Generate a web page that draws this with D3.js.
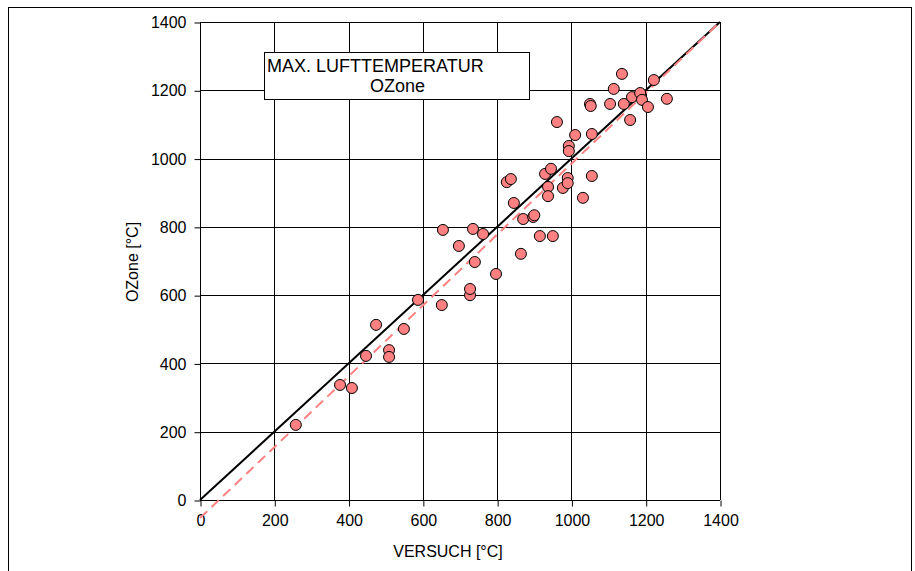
<!DOCTYPE html>
<html>
<head>
<meta charset="utf-8">
<script src="https://cdn.jsdelivr.net/npm/d3@7"></script>
<style>
  body { margin: 0; background: #fff; }
  svg { display: block; font-family: "Liberation Sans", Arial, sans-serif; }
</style>
</head>
<body>
<svg id="chart" width="915" height="571"></svg>
<script>
// measured (VERSUCH) vs computed (OZone) max air temperature, degC
var versuch = [258, 377, 409, 447, 474, 509, 509, 549, 587, 651,
               654, 697, 727, 727, 735, 740, 762, 797, 826, 837,
               845, 864, 870, 897, 900, 915, 929, 937, 937, 945,
               950, 961, 977, 990, 990, 993, 993, 1010, 1031, 1050,
               1052, 1055, 1055, 1104, 1114, 1136, 1141, 1158, 1163, 1185,
               1190, 1206, 1222, 1257];
var ozone = [220, 337, 328, 422, 513, 439, 419, 501, 586, 571,
             791, 744, 600, 618, 794, 697, 779, 662, 931, 940,
             870, 721, 823, 829, 834, 773, 955, 917, 890, 970,
             773, 1107, 914, 943, 928, 1037, 1022, 1069, 885, 1160,
             1154, 949, 1072, 1160, 1204, 1248, 1160, 1113, 1180, 1192,
             1172, 1151, 1230, 1175];

var ticks = [0, 200, 400, 600, 800, 1000, 1200, 1400];
// reference line y = x and regression line (dashed)
var idealLine = [[0, 0], [1400, 1400]];
var fitLine = [[0, -53], [1400, 1400]];

var legendLines = ["MAX. LUFTTEMPERATUR", "OZone"];

var svg = d3.select("#chart");

// outer frame
svg.append("rect")
    .attr("x", 8.5).attr("y", 7.5)
    .attr("width", 903).attr("height", 620)
    .attr("fill", "none").attr("stroke", "#000").attr("stroke-width", 1);

var x = d3.scaleLinear().domain([0, 1400]).range([200, 720]);
var y = d3.scaleLinear().domain([0, 1400]).range([500, 22]);

// grid
var grid = svg.append("g");
grid.selectAll(".vg").data(ticks).enter().append("line")
    .attr("x1", function (d) { return Math.round(x(d)) + 0.5; })
    .attr("x2", function (d) { return Math.round(x(d)) + 0.5; })
    .attr("y1", y(0)).attr("y2", y(1400))
    .attr("stroke", "#000").attr("stroke-width", 1);
grid.selectAll(".hg").data(ticks).enter().append("line")
    .attr("y1", function (d) { return Math.round(y(d)) + 0.5; })
    .attr("y2", function (d) { return Math.round(y(d)) + 0.5; })
    .attr("x1", x(0)).attr("x2", x(1400))
    .attr("stroke", "#000").attr("stroke-width", 1);

// axes
var fmt = d3.format("d");
var xAxis = svg.append("g")
    .attr("transform", "translate(0.5," + (Math.round(y(0)) + 0.5) + ")")
    .call(d3.axisBottom(x).tickValues(ticks).tickFormat(fmt).tickSize(6).tickPadding(8).tickSizeOuter(0));
var yAxis = svg.append("g")
    .attr("transform", "translate(" + (Math.round(x(0)) + 0.5) + ",0.5)")
    .call(d3.axisLeft(y).tickValues(ticks).tickFormat(fmt).tickSize(6).tickPadding(8).tickSizeOuter(0));

[xAxis, yAxis].forEach(function (a) {
    a.select(".domain").remove();
    a.selectAll("text").attr("font-size", 16).attr("fill", "#000")
        .attr("font-family", "Liberation Sans, Arial, sans-serif");
    a.selectAll("line").attr("stroke", "#000");
});

// axis titles
svg.append("text")
    .attr("x", 448).attr("y", 557)
    .attr("text-anchor", "middle").attr("font-size", 16)
    .text("VERSUCH [°C]");
svg.append("text")
    .attr("transform", "translate(138,262) rotate(-90)")
    .attr("text-anchor", "middle").attr("font-size", 16)
    .text("OZone [°C]");

// lines
var line = d3.line().x(function (d) { return x(d[0]); }).y(function (d) { return y(d[1]); });
svg.append("path").datum(idealLine).attr("d", line)
    .attr("fill", "none").attr("stroke", "#000").attr("stroke-width", 2);
svg.append("path").datum(fitLine).attr("d", line)
    .attr("fill", "none").attr("stroke", "#ff8080").attr("stroke-width", 2)
    .attr("stroke-dasharray", "10,6");

// points
svg.append("g").selectAll("circle").data(versuch).enter().append("circle")
    .attr("cx", function (d) { return x(d); })
    .attr("cy", function (d, i) { return y(ozone[i]); })
    .attr("r", 5.5)
    .attr("fill", "#ff8080").attr("stroke", "#000").attr("stroke-width", 1);

// legend box
var lg = svg.append("g");
lg.append("rect")
    .attr("x", 264.5).attr("y", 52.5).attr("width", 265).attr("height", 47)
    .attr("fill", "#fff").attr("stroke", "#000").attr("stroke-width", 1);
lg.append("text").attr("x", 267).attr("y", 72).attr("font-size", 18).text(legendLines[0]);
lg.append("text").attr("x", 370).attr("y", 92).attr("font-size", 18).text(legendLines[1]);
</script>
</body>
</html>
